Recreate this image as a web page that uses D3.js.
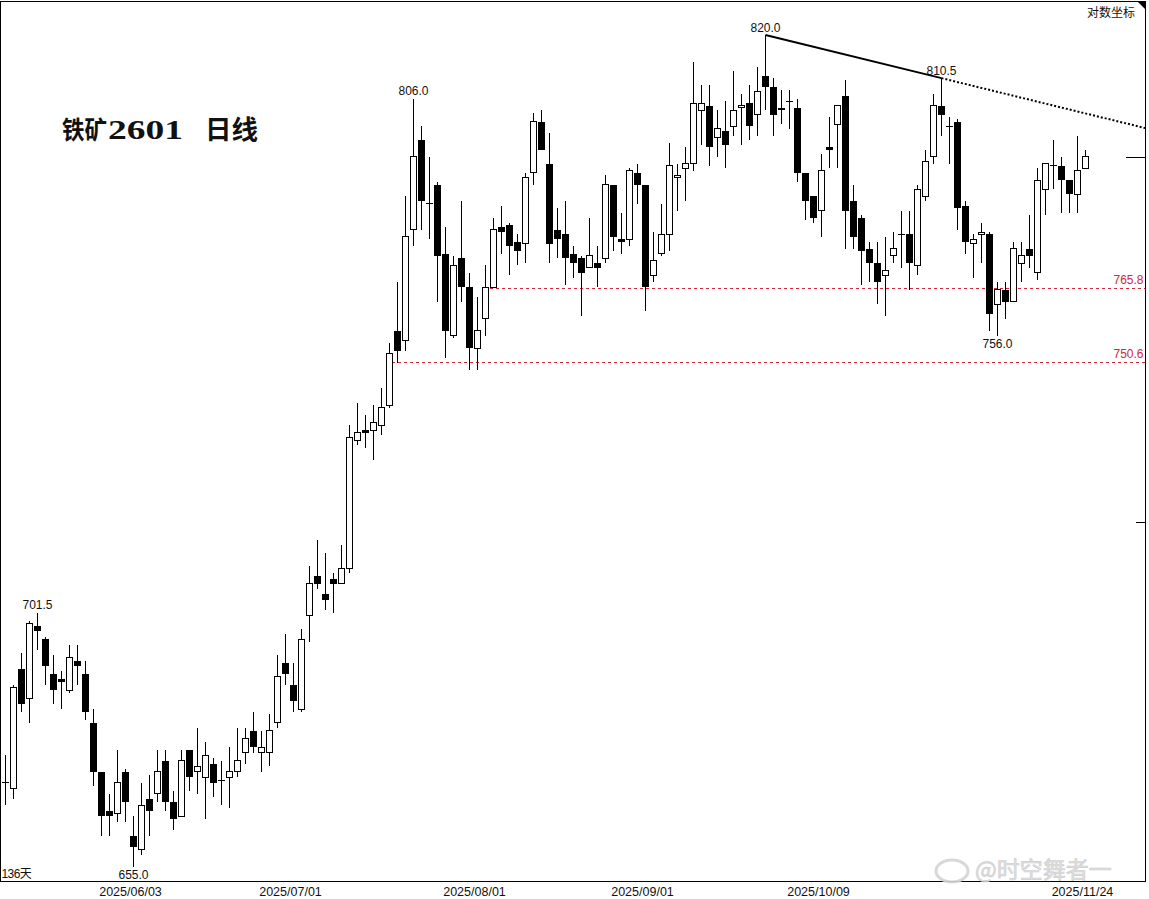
<!DOCTYPE html>
<html><head><meta charset="utf-8">
<script src="https://cdn.jsdelivr.net/npm/d3@7"></script>
<style>html,body{margin:0;padding:0;background:#fff;overflow:hidden}</style>
</head><body><svg id="c" width="1149" height="899"></svg>
<script>
const opens  = [670,669,691,685.5,699,696.5,690,689,687,692.5,690,681,672,665,664.5,672,660.5,658,667,668,674,666.5,664,676,672,671,673.5,670.5,671,672,675.5,679.5,675.5,675.5,681,692,688,683.5,701,708.5,705,708,707,710,735,737,737,738,742,757,755,778,797,783.5,787.5,773,756,772,766,753.5,759.5,766,778.5,779,775.5,775,790,801,792,778,777,773,772,770,771,772,787.5,776,776,790,787.5,768.5,773,777,789,791,792,803.5,804.5,797.5,799,800,804,805,802.5,811,808.5,804,805.5,804,790,785,782,795.5,800.5,806.5,784,780.5,774,771,768.5,772.5,777,777,770.5,785,793.5,804.5,800,801,783,775,777,777,762.5,765.5,763,771,774,769,786.5,791.5,791.5,788.5,785.5,791];
const highs  = [675,688,694,700,701.5,697,693.5,690.5,695.5,695.5,692.5,683.5,672,668,676,672.5,664,670,671.5,676,676,668.5,676,676,680,677.5,674.5,674,676.5,680,680,683,679.5,682.5,693.5,697.5,692,698.5,710.5,715.5,713,709,714.5,738,742.5,740,742,745.5,754.5,767,785,806,800,793.5,788,778.5,772.5,784,769,764,770.5,780.5,783,779.5,777,790,803,803.5,798.5,782.5,784,774.5,772.5,780.5,774.5,789.5,787.5,781.5,791,792,787.5,777.5,783.5,796.5,792,795.5,814,809,809,803.5,805.5,812,807,809,813,820,810.5,808,808,806,790,785,794,802,804.5,810,787.5,781,775.5,775.5,776.5,777.5,782,782,787.5,795,807,810.5,802,801.5,784,777,779.5,777.5,767,767,775.5,775.5,781,791,792,797,793.5,788.5,798,795];
const lows   = [666,667,683,681,694.5,688,684.5,683.5,686.5,688,681.5,669.5,660.5,660.5,663,663,655,657,660.5,666.5,665,661.5,664,668.5,668,663.5,667.5,666,665.5,671,673.5,675.5,672,673,680,688,683,683,696,706,702,701.5,707,709,734,733.5,731,736,741.5,750.5,753,774.5,778,776,763,751.5,755.5,763,749,749,756,765.8,773,768.5,770.5,771,787.5,795,771,772,766.5,768,760,770,766,771,773.5,773,774.5,783.5,761,767,772.5,773.5,782,784,790.5,796,791.5,793.5,791,798,796,797,798,803.5,798,800.5,799.5,788,780,779.5,776.5,791,791,774,774,766.5,767,762.5,760,771,770,765.5,768.5,784,792,798,792,778,773,768,771,757,756,759.5,763,767,770,767.5,781,786.5,781.5,781.5,781.5,791];
const closes = [670,687.5,684.5,699.5,698,691.5,687,688.5,693,691.5,683,672,664,664,670,666.5,658.5,666,665,672,666.5,663.5,674,671,673,675,670,670.5,672,674,678,676.5,676.5,679.5,689.5,690,685,696.5,707,707,704,707,710,735.5,736.5,736.5,738.5,741.5,752.5,753,776.5,793.5,784,783.5,772.5,757,770.5,766,753.5,757,766,778,777.5,774.5,773.5,789,801,795,775,776,772,771,769,772.5,770,787.5,776.5,775.5,790.5,787.5,766,771.5,777,791.5,789.5,792,805,805,795.5,799.5,796,803.5,804.5,800,807.5,808.5,802.5,803.5,805.5,790,784,780.5,790.5,795,804.5,782,776.5,773.5,771,767,769.5,774,777,771,786.5,792.5,804.5,802.5,800,782.5,775.5,776,777.5,760.5,765.5,763,774,772.5,772.5,788.5,792,791.5,788.5,785.5,790.5,793.5];

const dateLabels = ["2025/06/03","2025/07/01","2025/08/01","2025/09/01","2025/10/09","2025/11/24"];
const dateIdx    = [16,36,59,80,102,135];
const supportLevels = [765.8, 750.6];
const supportStart  = [61, 48];
const trendIdx   = [95, 117];
const highMarks  = [4, 51, 95, 117];
const lowMarks   = [16, 124];
const axisTicks  = [719];
const titleParts = ["铁矿", "2601", "日线"];
const dayCount   = "136天";
const scaleNote  = "对数坐标";
const watermark  = "@时空舞者一";

const n = closes.length;
const W = 1149, H = 899;
const plotL = 0, plotR = 1145.5, plotT = 1.5, plotB = 881.5;
const svg = d3.select("#c");
svg.append("rect").attr("width",W).attr("height",H).attr("fill","#fff");

const x = d3.scaleBand().domain(d3.range(n)).range([1.5, 1.5 + 8*n]).padding(0);
const cx = i => x(i) + x.bandwidth()/2;
const y = d3.scaleLog().domain([d3.min(lows), d3.max(highs)]).range([866.7, 35]);

svg.append("clipPath").attr("id","clip").append("rect")
  .attr("x",plotL).attr("y",plotT).attr("width",plotR-plotL).attr("height",plotB-plotT);

const g = svg.append("g").attr("clip-path","url(#clip)");

// support lines
supportLevels.forEach((lv,k)=>{
  g.append("line").attr("x1",cx(supportStart[k])-3.5).attr("x2",plotR)
    .attr("y1",Math.round(y(lv))+0.5).attr("y2",Math.round(y(lv))+0.5)
    .attr("stroke","#d0283c").attr("stroke-width",1).attr("stroke-dasharray","3,3");
  g.append("text").attr("x",plotR-2).attr("y",y(lv)-4.5).attr("text-anchor","end")
    .attr("font-family","Liberation Sans, Arial, sans-serif").attr("font-size",12)
    .attr("fill","#d0283c").text(lv.toFixed(1));
});

// candles
const idx = d3.range(n);
g.selectAll("line.wick").data(idx).join("line").attr("class","wick")
  .attr("x1",i=>cx(i)).attr("x2",i=>cx(i))
  .attr("y1",i=>y(highs[i])).attr("y2",i=>y(lows[i]))
  .attr("stroke","#000").attr("stroke-width",1).attr("shape-rendering","crispEdges");

const bodies = idx.filter(i=>Math.abs(closes[i]-opens[i])>0.01);
const dojis = idx.filter(i=>Math.abs(closes[i]-opens[i])<=0.01);
g.selectAll("rect.up").data(bodies.filter(i=>closes[i]>opens[i])).join("rect").attr("class","up")
  .attr("x",i=>cx(i)-3).attr("width",6)
  .attr("y",i=>y(closes[i])).attr("height",i=>Math.max(1,y(opens[i])-y(closes[i])))
  .attr("fill","#fff").attr("stroke","#000").attr("stroke-width",1).attr("shape-rendering","crispEdges");
g.selectAll("rect.dn").data(bodies.filter(i=>closes[i]<opens[i])).join("rect").attr("class","dn")
  .attr("x",i=>cx(i)-3.5).attr("width",7)
  .attr("y",i=>y(opens[i])).attr("height",i=>Math.max(1.5,y(closes[i])-y(opens[i])))
  .attr("fill","#000").attr("shape-rendering","crispEdges");
g.selectAll("line.doji").data(dojis).join("line").attr("class","doji")
  .attr("x1",i=>cx(i)-3.5).attr("x2",i=>cx(i)+3.5)
  .attr("y1",i=>y(closes[i])).attr("y2",i=>y(closes[i]))
  .attr("stroke","#000").attr("stroke-width",1).attr("shape-rendering","crispEdges");

// trendline
const [a,b] = trendIdx;
const xa = cx(a), ya = y(highs[a]), xb = cx(b), yb = y(highs[b]);
const slope = (yb-ya)/(xb-xa);
g.append("line").attr("x1",xa).attr("y1",ya).attr("x2",xb).attr("y2",yb)
  .attr("stroke","#000").attr("stroke-width",2);
g.append("line").attr("x1",xb).attr("y1",yb).attr("x2",plotR).attr("y2",yb+slope*(plotR-xb))
  .attr("stroke","#000").attr("stroke-width",2).attr("stroke-dasharray","2,2");

// high / low annotations
const annoFont = "Liberation Sans, Arial, sans-serif";
highMarks.forEach(i=>{
  svg.append("text").attr("x",cx(i)).attr("y",y(highs[i])-3.5).attr("text-anchor","middle")
    .attr("font-family",annoFont).attr("font-size",12).attr("fill","#111").text(highs[i].toFixed(1));
});
lowMarks.forEach(i=>{
  svg.append("text").attr("x",cx(i)).attr("y",y(lows[i])+12.5).attr("text-anchor","middle")
    .attr("font-family",annoFont).attr("font-size",12).attr("fill","#111").text(lows[i].toFixed(1));
});

// frame
const frame = svg.append("g").attr("stroke","#000").attr("stroke-width",1).attr("shape-rendering","crispEdges");
frame.append("line").attr("x1",0).attr("x2",plotR).attr("y1",plotT).attr("y2",plotT);
frame.append("line").attr("x1",0.5).attr("x2",0.5).attr("y1",plotT).attr("y2",plotB);
frame.append("line").attr("x1",0).attr("x2",plotR).attr("y1",plotB).attr("y2",plotB);
frame.append("line").attr("x1",plotR).attr("x2",plotR).attr("y1",plotT).attr("y2",plotB);
svg.append("path").attr("d",`M${plotR-8},${plotT} L${plotR},${plotT} L${plotR},${plotT+8} Z`).attr("fill","#000");

// right axis ticks
axisTicks.forEach(v=>{
  frame.append("line").attr("x1",plotR-10).attr("x2",plotR).attr("y1",Math.round(y(v))+0.5).attr("y2",Math.round(y(v))+0.5);
});
frame.append("line").attr("x1",plotR-20).attr("x2",plotR)
  .attr("y1",Math.round(y(closes[n-1]))+0.5).attr("y2",Math.round(y(closes[n-1]))+0.5);

// watermark (behind date labels)
const wm = svg.append("g").attr("opacity",0.9);
wm.append("ellipse").attr("cx",952).attr("cy",871).attr("rx",16).attr("ry",11).attr("fill","none").attr("stroke","#d4d4d4").attr("stroke-width",3);
wm.append("text").attr("x",975).attr("y",878).attr("font-family","'Noto Sans CJK SC', sans-serif")
  .attr("font-size",23).attr("fill","#dcdcdc").attr("stroke","#c8c8c8").attr("stroke-width",0.6).text(watermark);

// bottom date labels
dateLabels.forEach((t,k)=>{
  svg.append("text").attr("x",cx(dateIdx[k])-3).attr("y",896).attr("text-anchor","middle")
    .attr("font-family","Liberation Sans, Arial, sans-serif").attr("font-size",12.5).attr("fill","#111").text(t);
});

// title
const title = svg.append("text").attr("y",139).attr("fill","#111");
title.append("tspan").attr("x",62).attr("font-family","'Noto Sans CJK SC', sans-serif").attr("font-weight","bold")
  .attr("font-size",25).attr("textLength",45).attr("lengthAdjust","spacingAndGlyphs").text(titleParts[0]);
title.append("tspan").attr("x",108).attr("font-family","Liberation Serif, serif").attr("font-weight","bold")
  .attr("font-size",27).attr("textLength",75).attr("lengthAdjust","spacingAndGlyphs").text(titleParts[1]);
title.append("tspan").attr("x",205).attr("font-family","'Noto Sans CJK SC', sans-serif").attr("font-weight","bold")
  .attr("font-size",26).attr("textLength",53).attr("lengthAdjust","spacingAndGlyphs").text(titleParts[2]);

svg.append("text").attr("x",1.5).attr("y",878).attr("font-family","Liberation Sans, 'Noto Sans CJK SC', sans-serif")
  .attr("font-size",12).attr("letter-spacing",-0.6).attr("fill","#111").text(dayCount);
svg.append("text").attr("x",1135).attr("y",17).attr("text-anchor","end").attr("font-family","'Noto Sans CJK SC', sans-serif")
  .attr("font-size",12).attr("fill","#111").text(scaleNote);
</script></body></html>
